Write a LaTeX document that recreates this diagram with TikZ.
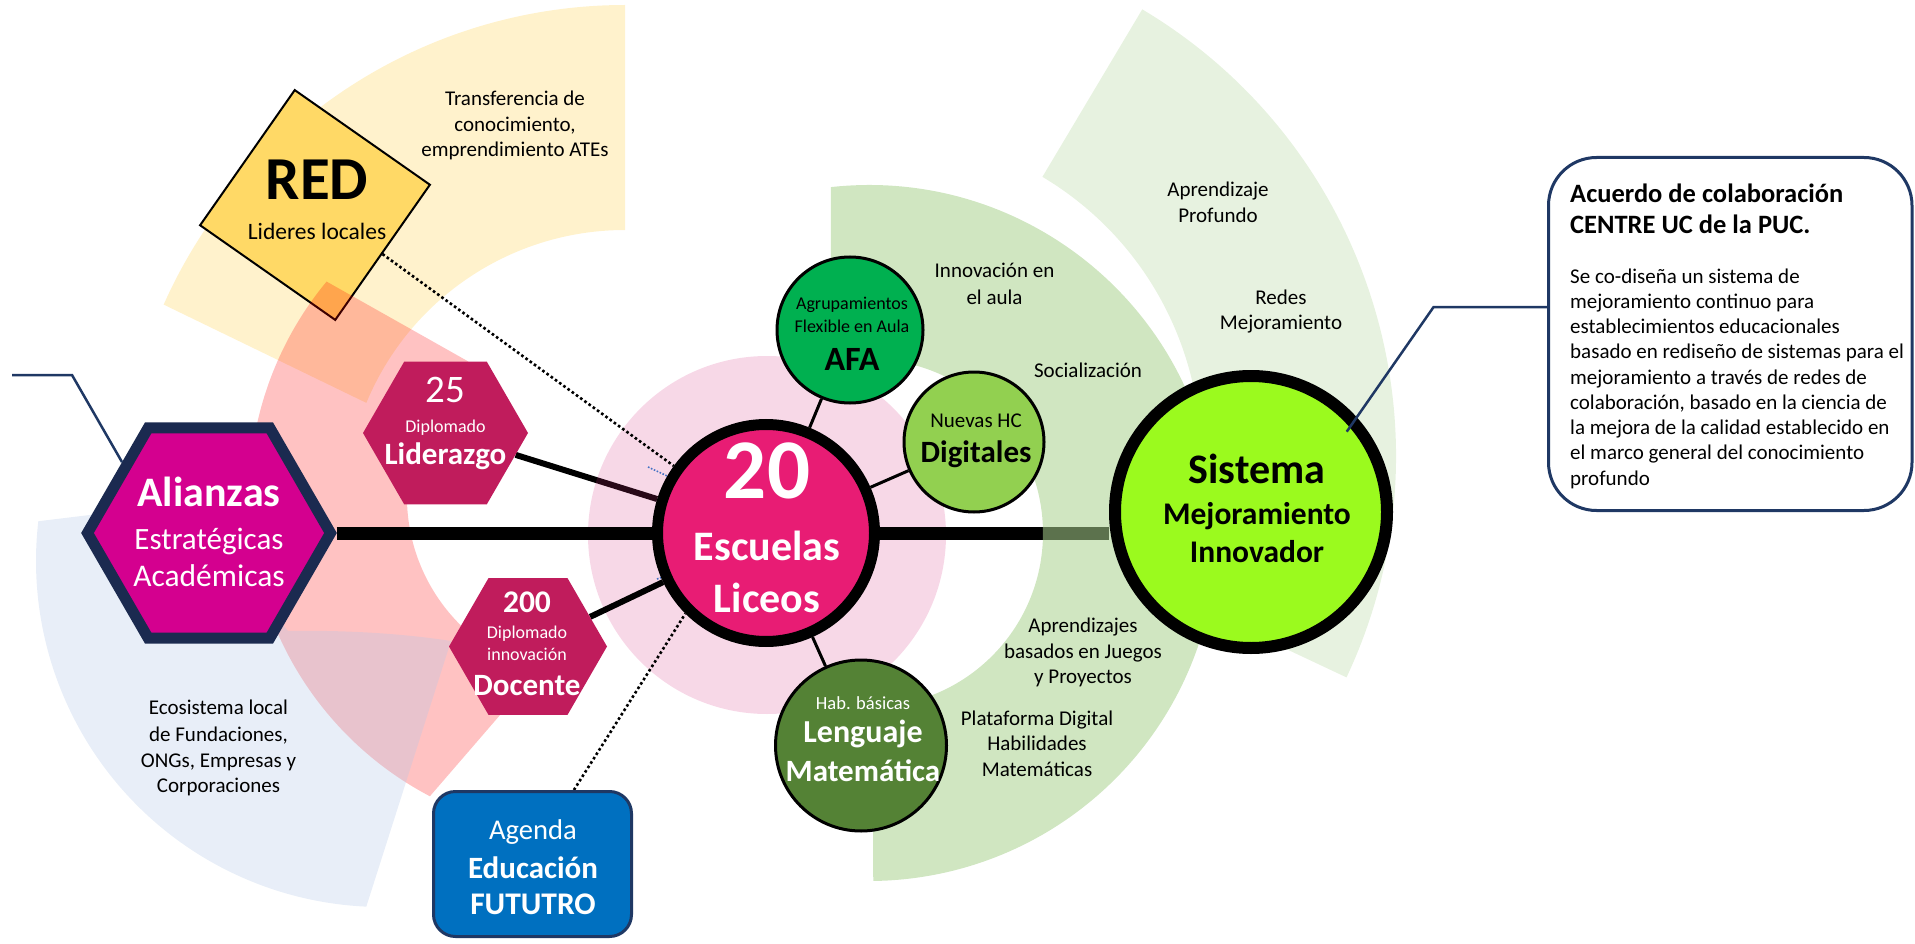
\documentclass[tikz,border=0pt]{standalone}
\usepackage{fontspec}
\setmainfont{Carlito}
\usetikzlibrary{shapes.geometric,calc}
\pgfdeclarelayer{bands}
\pgfdeclarelayer{links}
\pgfdeclarelayer{veil}
\pgfsetlayers{bands,links,veil,main}

\definecolor{navyline}{RGB}{31,56,100}
\definecolor{hexnavy}{RGB}{27,42,80}
\definecolor{alifill}{RGB}{212,0,143}
\definecolor{hexred}{RGB}{192,28,92}
\definecolor{escfill}{RGB}{232,28,116}
\definecolor{sisfill}{RGB}{155,250,30}
\definecolor{afafill}{RGB}{0,176,80}
\definecolor{nuefill}{RGB}{146,208,80}
\definecolor{lenfill}{RGB}{84,130,53}
\definecolor{redfill}{RGB}{255,217,102}
\definecolor{agefill}{RGB}{0,112,192}
\definecolor{ylwband}{RGB}{255,242,204}
\definecolor{grnband}{RGB}{169,209,142}
\definecolor{lavband}{RGB}{180,199,231}
\definecolor{pinkdisc}{RGB}{215,50,130}
\definecolor{salband}{RGB}{255,0,0}
\definecolor{bluedotc}{RGB}{68,114,196}

\newcommand\fsz[1]{\fontsize{#1}{0}\selectfont}
\newcommand\topst[1]{\rule{0pt}{#1pt}}
\newcommand\botst[1]{\rule[-#1pt]{0pt}{#1pt}}
\newcommand\nolsl{\lineskiplimit=-\maxdimen}

\tikzset{
  lbl/.style={align=center, inner sep=0pt, font={\nolsl\fsz{21}}},
  wtxt/.style={lbl, text=white},
  btxt/.style={lbl, text=black},
  ringnode/.style={circle, draw=black, inner sep=0pt},
  hexnode/.style={regular polygon, regular polygon sides=6, inner sep=0pt},
  thickline/.style={line width=6pt},
  thinline/.style={line width=3pt},
  mainline/.style={line width=13pt},
  dotline/.style={line width=2.6pt, dash pattern=on 2.6pt off 2.6pt},
  bluedot/.style={bluedotc, line width=1.6pt, dash pattern=on 1.6pt off 1.6pt},
  calloutline/.style={navyline, line width=2.5pt},
}

\begin{document}
\begin{tikzpicture}[x=1pt,y=-1pt]
\useasboundingbox (0,0) rectangle (1915,944);

% ---------- main nodes ----------
\node[hexnode, minimum size=243pt, draw=hexnavy, line width=11pt, fill=alifill] (ali) at (209,533) {};
\node[hexnode, minimum size=165pt, fill=hexred] (lid) at (445.5,433) {};
\node[hexnode, minimum size=158pt, fill=hexred] (doc) at (528,646.5) {};
\node[ringnode, minimum size=217pt, line width=11pt, fill=escfill] (esc) at (766,533) {};
\node[ringnode, minimum size=272pt, line width=12pt, fill=sisfill] (sis) at (1251,512) {};
\node[ringnode, minimum size=146pt, line width=3pt, fill=afafill] (afa) at (850,330) {};
\node[ringnode, minimum size=140pt, line width=3pt, fill=nuefill] (nue) at (974,442) {};
\node[ringnode, minimum size=171pt, line width=3pt, fill=lenfill] (len) at (861,745.5) {};
\node[rectangle, rounded corners=22pt, draw=navyline, line width=3pt, fill=agefill, minimum width=198pt, minimum height=145pt, inner sep=0pt] (age) at (532.5,864) {};
\node[rectangle, rounded corners=48pt, draw=navyline, line width=3pt, fill=white, minimum width=363.5pt, minimum height=353pt, inner sep=0pt] (call) at (1730.25,334) {};

% ---------- bands (bottom layer) ----------
\begin{pgfonlayer}{bands}
\fill[ylwband] ($(625,510)+(270:505)$) arc[start angle=270, end angle=204, radius=505]
  -- ($(625,510)+(202.5:280)$) arc[start angle=202.5, end angle=270, radius=280] -- cycle;
\node[draw=black, line width=2pt, fill=redfill, minimum size=165pt, rotate=-35, inner sep=0pt] (red) at (315,205) {};
\fill[salband, fill opacity=0.24] ($(587,497)+(219.6:338)$) arc[start angle=219.6, end angle=117.7, radius=338]
  -- ($(587,497)+(105.6:180)$) arc[start angle=105.6, end angle=228.8, radius=180] -- cycle;
\fill[lavband, fill opacity=0.3] ($(382,561)+(186.6:346)$) arc[start angle=186.6, end angle=92.6, radius=346]
  -- (451,641) .. controls (400,633) and (340,630) .. (288,631) -- (230,560) -- (180,504) -- cycle;
\fill[grnband, fill opacity=0.28] ($(876,456)+(-59.2:520)$) arc[start angle=-59.2, end angle=25.2, radius=520]
  -- ($(876,456)+(25.2:325)$) arc[start angle=25.2, end angle=-59.2, radius=325] -- cycle;
\draw[thickline] (lid) -- (esc);
\fill[pinkdisc, fill opacity=0.19] (767,535) circle[radius=179];
\end{pgfonlayer}

% ---------- connectors ----------
\begin{pgfonlayer}{links}
\draw[mainline] (ali) -- (esc) -- (esc -| sis.west);
\draw[thickline] (doc) -- (esc);
\draw[thinline] (afa) -- (esc);
\draw[thinline] (nue) -- (esc);
\draw[thinline] (len) -- (esc);
\draw[dotline] (red) -- (esc);
\coordinate (agetop) at ($(age.north west)!0.706!(age.north east)$);
\draw[dotline] (agetop) -- (esc.225);
\coordinate (bdA) at (648,467);
\coordinate (bdB) at (657,579);
\draw[bluedot] (bdA) -- (esc.150);
\draw[bluedot] (bdB) -- (esc.203);
\end{pgfonlayer}

% ---------- translucent green band over the main line ----------
\begin{pgfonlayer}{veil}
\fill[grnband, fill opacity=0.55] ($(869,533)+(-96.3:348)$) arc[start angle=-96.3, end angle=89.3, radius=348]
  -- ($(869,533)+(88.7:174)$) arc[start angle=88.7, end angle=-102.6, radius=174] -- cycle;
\end{pgfonlayer}

% ---------- texts ----------
\node[wtxt] (alit) at (209,533) {\topst{40}{\bfseries\fsz{42}Alianzas}\\[43pt]{\fsz{31}Estratégicas}\\[37pt]{\fsz{31.5}Académicas}\botst{14}};
\node[wtxt] (lidt) at (445.5,433) {\topst{34}{\fsz{39}25}\\[30pt]{\fsz{18}Diplomado}\\[32pt]{\bfseries\fsz{31}Liderazgo}\botst{34}};
\node[wtxt] (doct) at (527,646.5) {\topst{26}{\bfseries\fsz{31.5}200}\\[26pt]{\fsz{18}Diplomado}\\[22pt]{\fsz{18}innovación}\\[35pt]{\bfseries\fsz{31}Docente}\botst{12}};
\node[wtxt] (esct) at (767,533) {\topst{60}{\bfseries\fsz{85}20}\\[62pt]{\bfseries\fsz{42}Escuelas}\\[52pt]{\bfseries\fsz{42}Liceos}\botst{16}};
\node[btxt] (sist) at (1257,512) {\topst{32}{\bfseries\fsz{42}Sistema}\\[41pt]{\bfseries\fsz{31.5}Mejoramiento}\\[38pt]{\bfseries\fsz{31.5}Innovador}\botst{11}};
\node[btxt] (afat) at (852,330) {\topst{22}{\fsz{18}Agrupamientos}\\[23pt]{\fsz{18}Flexible en Aula}\\[38pt]{\bfseries\fsz{34}AFA}\botst{3}};
\node[btxt] (nuet) at (976,442) {\topst{22}{\fsz{21}Nuevas HC}\\[35pt]{\bfseries\fsz{31}Digitales}\botst{17}};
\node[wtxt] (lent) at (863,745.5) {\topst{20}{\fsz{18.5}Hab. básicas}\\[33pt]{\bfseries\fsz{32}Lenguaje}\\[39pt]{\bfseries\fsz{31}Matemática}\botst{21}};
\node[btxt] (redt) at (317,205) {\topst{44}{\bfseries\fsz{61}RED}\\[40pt]{\fsz{23.5}Lideres locales}\botst{14}};
\node[wtxt] (aget) at (533,864) {\topst{28}{\fsz{28.6}Agenda}\\[39pt]{\bfseries\fsz{31}Educación}\\[36pt]{\bfseries\fsz{31.5}FUTUTRO}\botst{3}};

\node[btxt] (ttrans) at (515,131.5) {\topst{20}Transferencia de\\[26pt]conocimiento,\\[25pt]emprendimiento ATEs\botst{20}};
\node[btxt] (taprof) at (1218,210) {\topst{20}Aprendizaje\\[26pt]Profundo\botst{20}};
\node[btxt] (tredes) at (1281,316.5) {\topst{20}Redes\\[25pt]Mejoramiento\botst{20}};
\node[btxt] (tinnov) at (994.5,291) {\topst{20}Innovación en\\[26pt]el aula\botst{20}};
\node[btxt] (tsocial) at (1088,377) {\topst{20}Socialización\botst{20}};
\node[btxt] (tjuegos) at (1083,657.5) {\topst{20}Aprendizajes\\[26pt]basados en Juegos\\[25pt]y Proyectos\botst{20}};
\node[btxt] (tplat) at (1037,750.5) {\topst{20}Plataforma Digital\\[25pt]Habilidades\\[26pt]Matemáticas\botst{20}};
\node[btxt] (tecos) at (218.5,753) {\topst{20}Ecosistema local\\[27pt]de Fundaciones,\\[26pt]ONGs, Empresas y\\[25pt]Corporaciones\botst{20}};

\node[btxt, align=left, anchor=north west] (calltxt) at (1570,178) {\topst{24}{\bfseries\fsz{26.5}Acuerdo de colaboración}\\[31pt]{\bfseries\fsz{26.5}CENTRE UC de la PUC.}\\[50pt]Se co-diseña un sistema de\\[25.25pt]mejoramiento continuo para\\[25.25pt]establecimientos educacionales\\[25.25pt]basado en rediseño de sistemas para el\\[25.25pt]mejoramiento a través de redes de\\[25.25pt]colaboración, basado en la ciencia de\\[25.25pt]la mejora de la calidad establecido en\\[25.25pt]el marco general del conocimiento\\[25.25pt]profundo};

% ---------- callout leaders ----------
\coordinate (lfree) at (12,375);
\coordinate (lknee) at (72,375);
\draw[calloutline] (lfree) -- (lknee) -- ($(ali.corner 3)!0.64!(ali.corner 2)$);
\coordinate (sisin) at ($(sis.center)!0.88!(sis.40)$);
\coordinate (callk) at (1433.6,307);
\draw[calloutline] (sisin) -- (callk) -- (callk -| call.west);
\end{tikzpicture}
\end{document}
